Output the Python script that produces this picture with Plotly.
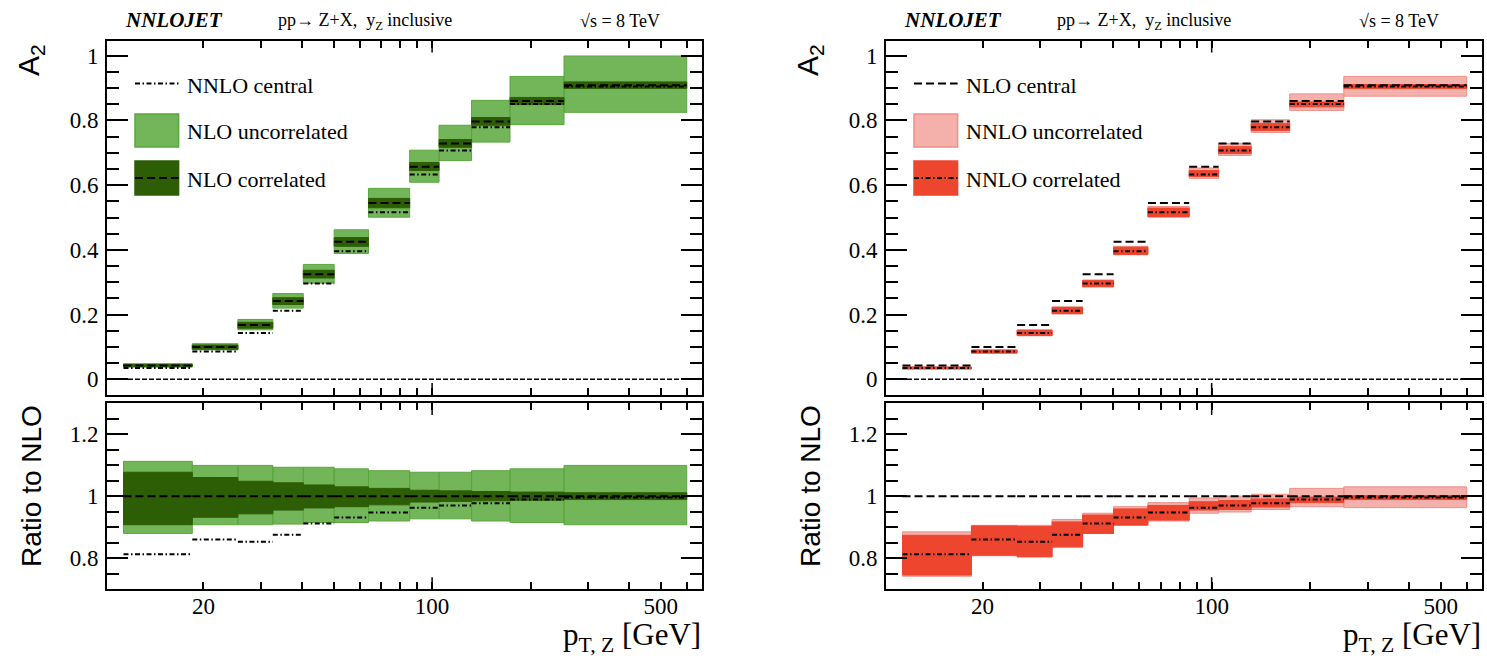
import math
import plotly.graph_objects as go

# ---------------- data ----------------
pt_edges = [11.4, 18.5, 25.5, 32.6, 40.4, 50.2, 63.9, 85.4, 105, 132, 173, 253, 600]

# top panels: A2 values
nlo_central = [0.043, 0.100, 0.168, 0.242, 0.325, 0.425, 0.545, 0.657, 0.729, 0.797, 0.860, 0.909]
nnlo_central = [0.035, 0.086, 0.143, 0.212, 0.296, 0.396, 0.516, 0.633, 0.707, 0.779, 0.851, 0.905]
nlo_uncor_hi = [0.048, 0.110, 0.185, 0.265, 0.355, 0.462, 0.590, 0.708, 0.785, 0.862, 0.936, 0.999]
nlo_uncor_lo = [0.038, 0.091, 0.153, 0.220, 0.297, 0.389, 0.501, 0.609, 0.676, 0.733, 0.787, 0.825]
nlo_cor_hi = [0.046, 0.106, 0.176, 0.252, 0.337, 0.438, 0.559, 0.670, 0.741, 0.809, 0.871, 0.919]
nlo_cor_lo = [0.039, 0.093, 0.158, 0.231, 0.313, 0.411, 0.530, 0.645, 0.717, 0.785, 0.849, 0.899]
nnlo_uncor_hi = [0.038, 0.091, 0.152, 0.224, 0.307, 0.411, 0.534, 0.653, 0.729, 0.802, 0.882, 0.936]
nnlo_uncor_lo = [0.032, 0.081, 0.135, 0.202, 0.286, 0.385, 0.501, 0.621, 0.692, 0.763, 0.831, 0.875]
nnlo_cor_hi = [0.038, 0.090, 0.152, 0.222, 0.305, 0.408, 0.529, 0.645, 0.719, 0.790, 0.857, 0.911]
nnlo_cor_lo = [0.032, 0.081, 0.135, 0.203, 0.286, 0.386, 0.503, 0.627, 0.698, 0.769, 0.842, 0.899]

# ratio panels: ratio to NLO central
r_nlo_central = [1.0, 1.0, 1.0, 1.0, 1.0, 1.0, 1.0, 1.0, 1.0, 1.0, 1.0, 1.0]
r_nnlo_central = [0.813, 0.860, 0.853, 0.876, 0.912, 0.931, 0.947, 0.963, 0.970, 0.977, 0.989, 0.996]
r_nlo_uncor_hi = [1.112, 1.099, 1.099, 1.093, 1.093, 1.088, 1.082, 1.077, 1.077, 1.082, 1.088, 1.099]
r_nlo_uncor_lo = [0.880, 0.908, 0.908, 0.910, 0.915, 0.915, 0.920, 0.927, 0.927, 0.920, 0.915, 0.908]
r_nlo_cor_hi = [1.077, 1.060, 1.048, 1.043, 1.036, 1.030, 1.025, 1.019, 1.017, 1.015, 1.013, 1.011]
r_nlo_cor_lo = [0.908, 0.932, 0.943, 0.955, 0.962, 0.966, 0.972, 0.981, 0.983, 0.985, 0.987, 0.989]
r_nnlo_uncor_hi = [0.885, 0.906, 0.906, 0.925, 0.945, 0.966, 0.979, 0.994, 1.000, 1.006, 1.025, 1.030]
r_nnlo_uncor_lo = [0.742, 0.808, 0.804, 0.835, 0.880, 0.906, 0.920, 0.945, 0.949, 0.957, 0.966, 0.963]
r_nnlo_cor_hi = [0.874, 0.904, 0.902, 0.917, 0.939, 0.959, 0.970, 0.982, 0.986, 0.991, 0.997, 1.002]
r_nnlo_cor_lo = [0.746, 0.810, 0.805, 0.837, 0.880, 0.907, 0.923, 0.955, 0.957, 0.965, 0.979, 0.989]

x_tickvals = [20, 30, 40, 50, 60, 70, 80, 90, 100, 200, 300, 400, 500, 600]
x_ticktext = ["20", "", "", "", "", "", "", "", "100", "", "", "", "500", ""]
top_tickvals = [0, 0.2, 0.4, 0.6, 0.8, 1.0]
top_ticktext = ["0", "0.2", "0.4", "0.6", "0.8", "1"]
bot_tickvals = [0.8, 1.0, 1.2]
bot_ticktext = ["0.8", "1", "1.2"]

# ---------------- styling ----------------
W, H = 1487, 660
LIGHT_G, LIGHT_G_EDGE = "#73b65a", "#5aa63e"
DARK_G = "#2d5e05"
RED, PINK, PINK_EDGE = "#ee452e", "#f4b0ab", "#ef8f88"
SERIF = "Liberation Serif"
SANS = "Liberation Sans"
DASH = "8px,4px"
DASHDOT = "5px,2.5px,1.5px,2.5px"

XL = (107, 702)
XR = (886, 1482)
YT = (40.5, 395)
YB = (403, 589.3)


def xd(a, b):
    return [a / W, b / W]


def yd(a, b):
    return [1 - b / H, 1 - a / H]


def rects(lo, hi):
    xs, ys = [], []
    for i in range(len(lo)):
        a, b = pt_edges[i], pt_edges[i + 1]
        xs += [a, a, b, b, a, None]
        ys += [lo[i], hi[i], hi[i], lo[i], lo[i], None]
    return xs, ys


def steps(vals):
    xs, ys = [], []
    for i, v in enumerate(vals):
        xs += [pt_edges[i], pt_edges[i + 1], None]
        ys += [v, v, None]
    return xs, ys


fig = go.Figure()


def band(lo, hi, fill, edge, xa, ya):
    xs, ys = rects(lo, hi)
    fig.add_trace(go.Scatter(x=xs, y=ys, mode="lines", fill="toself", fillcolor=fill,
                             line=dict(color=edge, width=1), xaxis=xa, yaxis=ya,
                             hoverinfo="skip", showlegend=False))


def line(vals, dash, xa, ya):
    xs, ys = steps(vals)
    fig.add_trace(go.Scatter(x=xs, y=ys, mode="lines",
                             line=dict(color="black", width=2, dash=dash),
                             xaxis=xa, yaxis=ya, hoverinfo="skip", showlegend=False))


# left top
band(nlo_uncor_lo, nlo_uncor_hi, LIGHT_G, LIGHT_G_EDGE, "x", "y")
band(nlo_cor_lo, nlo_cor_hi, DARK_G, DARK_G, "x", "y")
line(nnlo_central, DASHDOT, "x", "y")
line(nlo_central, DASH, "x", "y")
# left bottom
band(r_nlo_uncor_lo, r_nlo_uncor_hi, LIGHT_G, LIGHT_G_EDGE, "x2", "y2")
band(r_nlo_cor_lo, r_nlo_cor_hi, DARK_G, DARK_G, "x2", "y2")
line(r_nnlo_central, DASHDOT, "x2", "y2")
line(r_nlo_central, DASH, "x2", "y2")
# right top
band(nnlo_uncor_lo, nnlo_uncor_hi, PINK, PINK_EDGE, "x3", "y3")
band(nnlo_cor_lo, nnlo_cor_hi, RED, RED, "x3", "y3")
line(nlo_central, DASH, "x3", "y3")
line(nnlo_central, DASHDOT, "x3", "y3")
# right bottom
band(r_nnlo_uncor_lo, r_nnlo_uncor_hi, PINK, PINK_EDGE, "x4", "y4")
band(r_nnlo_cor_lo, r_nnlo_cor_hi, RED, RED, "x4", "y4")
line(r_nlo_central, DASH, "x4", "y4")
line(r_nnlo_central, DASHDOT, "x4", "y4")

xr = [math.log10(10.15), math.log10(668)]
tickfont = dict(family=SERIF, size=23, color="black")


def xaxis(dom, anchor, labels):
    return dict(type="log", range=xr, domain=dom, anchor=anchor,
                showline=True, linecolor="black", linewidth=2, mirror="allticks",
                ticks="inside", ticklen=7, tickwidth=1.5, tickcolor="black",
                tickvals=x_tickvals, ticktext=x_ticktext, showticklabels=labels,
                tickangle=0, tickfont=tickfont, showgrid=False, zeroline=False,
                ticklabelstandoff=-5)


def yaxis(dom, anchor, rng, tv, tt, minor_vals):
    return dict(range=rng, domain=dom, anchor=anchor,
                showline=True, linecolor="black", linewidth=2, mirror="allticks",
                ticks="inside", ticklen=21, tickwidth=1.5, tickcolor="black",
                tickvals=tv, ticktext=tt, tickfont=tickfont,
                minor=dict(tickvals=minor_vals, ticklen=12, tickwidth=1.5,
                           tickcolor="black", ticks="inside", showgrid=False),
                showgrid=False, zeroline=False, ticklabelstandoff=2)


top_minor = [round(0.05 * i, 2) for i in range(0, 21)]
bot_minor = [round(0.7 + 0.05 * i, 2) for i in range(0, 13)]
top_range = [-0.0485, 1.047]
bot_range = [0.70, 1.30]

fig.update_layout(
    width=W, height=H, autosize=False,
    margin=dict(l=0, r=0, t=0, b=0),
    paper_bgcolor="white", plot_bgcolor="white",
    xaxis=xaxis(xd(*XL), "y", False),
    yaxis=yaxis(yd(*YT), "x", top_range, top_tickvals, top_ticktext, top_minor),
    xaxis2=xaxis(xd(*XL), "y2", True),
    yaxis2=yaxis(yd(*YB), "x2", bot_range, bot_tickvals, bot_ticktext, bot_minor),
    xaxis3=xaxis(xd(*XR), "y3", False),
    yaxis3=yaxis(yd(*YT), "x3", top_range, top_tickvals, top_ticktext, top_minor),
    xaxis4=xaxis(xd(*XR), "y4", True),
    yaxis4=yaxis(yd(*YB), "x4", bot_range, bot_tickvals, bot_ticktext, bot_minor),
)

shapes = []
# longer tick at 100 on every horizontal frame edge
for xa, ya, hpx in [("x", "y", YT[1] - YT[0]), ("x2", "y2", YB[1] - YB[0]),
                    ("x3", "y3", YT[1] - YT[0]), ("x4", "y4", YB[1] - YB[0])]:
    f = 12.0 / hpx
    for y0, y1 in [(0, f), (1, 1 - f)]:
        shapes.append(dict(type="line", xref=xa, yref=ya + " domain", x0=100, x1=100,
                           y0=y0, y1=y1, line=dict(color="black", width=1.5)))
# dashed zero line in top panels
for xa, ya in [("x", "y"), ("x3", "y3")]:
    shapes.append(dict(type="line", xref=xa + " domain", yref=ya, x0=0, x1=1, y0=0, y1=0,
                       line=dict(color="black", width=1.5, dash="5px,2px"), layer="below"))

annotations = []


def pa(x, y, text, size, family=SERIF, xanchor="left", yanchor="middle", angle=0):
    annotations.append(dict(xref="paper", yref="paper", x=x / W, y=1 - y / H, text=text,
                            showarrow=False, xanchor=xanchor, yanchor=yanchor,
                            textangle=angle, font=dict(family=family, size=size, color="black")))


# manual legends
for off, entries in [
    (0, [("line", DASHDOT, None, "NNLO central"),
         ("box", LIGHT_G, LIGHT_G_EDGE, "NLO uncorrelated"),
         ("boxline", DARK_G, DASH, "NLO correlated")]),
    (779, [("line", DASH, None, "NLO central"),
           ("box", PINK, PINK_EDGE, "NNLO uncorrelated"),
           ("boxline", RED, DASHDOT, "NNLO correlated")]),
]:
    bx0, bx1 = 135 + off, 178.6 + off
    rows = [(83.5, None), (114, 147), (161, 195)]
    textys = [85, 132, 179]
    for (kind, a, b, label), (r0, r1), ty in zip(entries, rows, textys):
        if kind == "line":
            shapes.append(dict(type="line", xref="paper", yref="paper", x0=bx0 / W, x1=bx1 / W,
                               y0=1 - r0 / H, y1=1 - r0 / H,
                               line=dict(color="black", width=2, dash=a)))
        else:
            edge = b if kind == "box" else a
            shapes.append(dict(type="rect", xref="paper", yref="paper", x0=bx0 / W, x1=bx1 / W,
                               y0=1 - r1 / H, y1=1 - r0 / H, fillcolor=a,
                               line=dict(color=edge, width=1.5)))
            if kind == "boxline":
                ym = (r0 + r1) / 2
                shapes.append(dict(type="line", xref="paper", yref="paper", x0=bx0 / W, x1=bx1 / W,
                                   y0=1 - ym / H, y1=1 - ym / H,
                                   line=dict(color="black", width=2, dash=b)))
        pa(185 + off, ty, label, 22)

    # headers
    pa(123 + off, 20, "<b><i>NNLOJET</i></b>", 21)
    pa(276 + off, 21, "pp\u2192 Z+X,\u00a0 y<sub>Z</sub> inclusive", 18)
    pa(578 + off, 21, "\u221as = 8 TeV", 18)
    # axis titles
    pa(31 + off, 42, "A<sub>2</sub>", 30, family=SANS, xanchor="center", yanchor="top", angle=-90)
    pa(31 + off, 403, "Ratio to NLO", 28, family=SANS, xanchor="center", yanchor="top", angle=-90)
    pa((703 if off == 0 else 1483), 615, "p<sub>T, Z</sub> [GeV]", 31, xanchor="right", yanchor="top")

fig.update_layout(shapes=shapes, annotations=annotations)
fig.write_html("out.html")
